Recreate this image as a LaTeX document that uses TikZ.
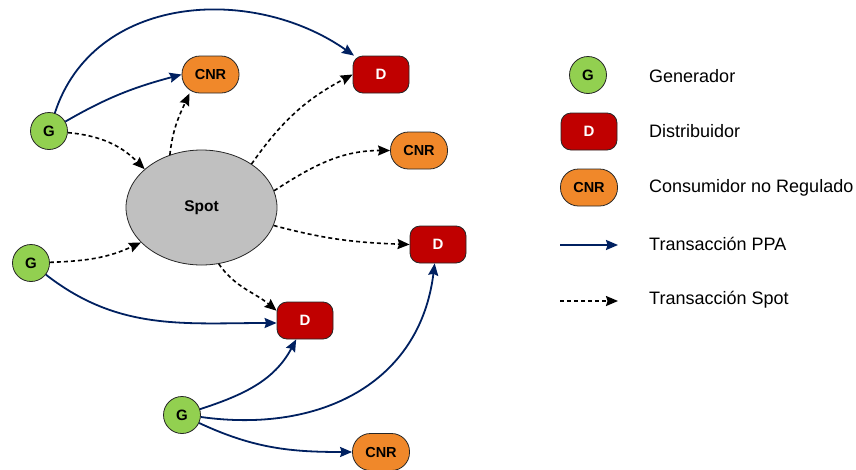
\documentclass[tikz,border=0pt]{standalone}
\usepackage{fontspec}
\setmainfont{Liberation Sans}
\usetikzlibrary{arrows.meta,shapes.geometric}
\definecolor{ggreen}{HTML}{92D050}
\definecolor{dred}{HTML}{C00000}
\definecolor{corange}{HTML}{F0882A}
\definecolor{sgray}{HTML}{C0C0C0}
\definecolor{navy}{HTML}{002060}
\tikzset{
  gnode/.style={circle, draw=black!85, line width=0.8pt, fill=ggreen, minimum size=37pt, inner sep=0pt, font=\bfseries\fontsize{15}{15}\selectfont},
  dnode/.style={rectangle, rounded corners=10pt, draw=black!85, line width=0.8pt, fill=dred, text=white, minimum width=56pt, minimum height=37pt, inner sep=0pt, font=\bfseries\fontsize{15}{15}\selectfont},
  cnode/.style={rectangle, rounded corners=18pt, draw=black!85, line width=0.8pt, fill=corange, minimum width=57pt, minimum height=37pt, inner sep=0pt, font=\bfseries\fontsize{14.5}{15}\selectfont},
  spotnode/.style={ellipse, draw=black!85, line width=0.8pt, fill=sgray, minimum width=151pt, minimum height=115pt, inner sep=0pt, font=\bfseries\fontsize{15.5}{16}\selectfont},
  ppa/.style={draw=navy, line width=1.8pt, -{Stealth[length=12pt,width=10pt,inset=1.5pt]}},
  spt/.style={draw=black, line width=1.6pt, dash pattern=on 4pt off 3pt, -{Stealth[length=12pt,width=10pt,inset=1.5pt]}},
  legtext/.style={anchor=west, inner sep=0pt, font=\fontsize{18}{19}\selectfont}
}
\begin{document}
\begin{tikzpicture}[x=1pt,y=1pt]
\useasboundingbox (0,0) rectangle (856,-469);
% main nodes
\node[gnode] (g1) at (49,-131) {G};
\node[gnode] (g2) at (31,-263) {G};
\node[gnode] (g3) at (182,-415) {G};
\node[cnode] (cnr1) at (210.5,-74.5) {CNR};
\node[dnode] (d1) at (381,-74.5) {D};
\node[spotnode] (spot) at (201.5,-207.5) {Spot};
\node[cnode] (cnr2) at (419,-150.5) {CNR};
\node[dnode] (d2) at (438,-244.5) {D};
\node[dnode] (d3) at (305,-320.5) {D};
\node[cnode] (cnr3) at (381,-452) {CNR};
% PPA transactions
\draw[ppa] (g1) to[out=72,in=145,looseness=1.05] (d1);
\draw[ppa] (g1) to[out=30,in=195] (cnr1.west);
\draw[ppa] (g2) to[out=-38,in=180] (d3.185);
\draw[ppa] (g3) to[out=18,in=-118] (d3.-115);
\draw[ppa] (g3.-6) to[out=-8,in=-97,looseness=1.1] (d2.-100);
\draw[ppa] (g3) to[out=-25,in=180] (cnr3.west);
% Spot transactions
\draw[spt] (g1) to[out=-5,in=135] (spot.146);
\draw[spt] (g2) to[out=2,in=205] (spot.210);
\draw[spt] (spot.121) to[out=84,in=-115] (cnr1.222);
\draw[spt] (spot.41) to[out=55,in=208] (d1.west);
\draw[spt] (spot.13) to[out=33,in=180] (cnr2.west);
\draw[spt] (spot.-14) to[out=-15,in=178] (d2.west);
\draw[spt] (spot.-73) to[out=-55,in=140] (d3.161);
% legend
\node[gnode] (lg) at (588,-75) {G};
\node[dnode] (ld) at (589,-131.5) {D};
\node[cnode] (lc) at (589,-187.5) {CNR};
\coordinate (lpa) at (560,-245);
\coordinate (lpb) at (618,-245);
\coordinate (lsa) at (560,-301);
\coordinate (lsb) at (618,-301);
\draw[ppa] (lpa) -- (lpb);
\draw[spt] (lsa) -- (lsb);
\node[legtext] (t1) at (649,-76) {Generador};
\node[legtext] (t2) at (649,-131.5) {Distribuidor};
\node[legtext] (t3) at (649,-188) {Consumidor no Regulado};
\node[legtext] (t4) at (649,-243.5) {Transacción PPA};
\node[legtext] (t5) at (649,-299.5) {Transacción Spot};
\end{tikzpicture}
\end{document}
